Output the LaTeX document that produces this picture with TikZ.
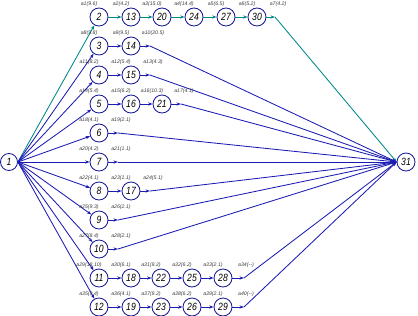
\documentclass[tikz,border=0pt]{standalone}
\usepackage{fontspec}
\setmainfont{Liberation Sans}
\newfontfamily\narrowsans[FakeStretch=0.82]{Liberation Sans}
\usetikzlibrary{arrows.meta}
\definecolor{nodeblue}{RGB}{20,20,150}
\definecolor{edgeblue}{RGB}{28,28,180}
\definecolor{critteal}{RGB}{0,135,135}
\definecolor{labgray}{RGB}{60,60,60}
\newcommand{\numfont}{\narrowsans\itshape\fontsize{10.5}{10.5}\selectfont}
\newcommand{\labfont}{\itshape\fontsize{5.2}{5.2}\selectfont}
\tikzset{
  nd/.style={circle, draw=nodeblue, fill=white, line width=0.8pt, minimum size=18pt, inner sep=0pt, font=\numfont},
  ed/.style={draw=edgeblue, line width=0.85pt, -{Stealth[length=4.5pt,width=3.2pt]}},
  crit/.style={ed, draw=critteal},
  lab/.style={font=\labfont, text=labgray, inner sep=0pt},
}
\begin{document}
\begin{tikzpicture}[x=1pt,y=-1pt]
\useasboundingbox (0,0) rectangle (418,316);
% nodes
\node[nd, minimum size=17pt] (n1) at (9,162) {1};
\node[nd] (n31) at (406,162) {31};
\foreach \n/\x/\y in {2/99/17,13/131/17,20/162/17,24/194/17,27/226/17,30/257/17,
  3/99/46,14/131/46, 4/99/75,15/131/75, 5/99/104,16/131/104,21/162/104,
  6/99/133, 7/99/162, 8/99/191,17/131/191, 9/99/220, 10/99/249,
  11/99/278,18/131/278,22/161/278,25/192/278,28/223/278,
  12/99/307,19/131/307,23/161/307,26/192/307,29/223/307}
  {\node[nd] (n\n) at (\x,\y) {\n};}
% bend points before node 31
\foreach \n/\x/\y in {30/275/17,14/150/46,15/150/75,21/181/104,6/118/133,7/118/162,
  17/150/191,9/118/220,10/118/249,28/244/278,29/244/307}
  {\coordinate (b\n) at (\x,\y);}
% edges from node 1
\draw[crit] (n1.east) -- (n2);
\foreach \n in {3,...,12} {\draw[ed] (n1.east) -- (n\n);}
% chains
\draw[crit] (n2) -- (n13);
\draw[crit] (n13) -- (n20);
\draw[crit] (n20) -- (n24);
\draw[crit] (n24) -- (n27);
\draw[crit] (n27) -- (n30);
\draw[crit] (n30) -- (b30);
\draw[crit] (b30) -- (n31.west);
\foreach \a/\b in {3/14,4/15,5/16,16/21,8/17,11/18,18/22,22/25,25/28,12/19,19/23,23/26,26/29}
  {\draw[ed] (n\a) -- (n\b);}
\foreach \n in {14,15,21,6,7,17,9,10,28,29}
  {\draw[ed] (n\n) -- (b\n); \draw[ed] (b\n) -- (n31.west);}
% labels on edges into nodes
\foreach \n/\t in {2/a1(9.6),13/a2(4.2),20/a3(15.0),24/a4(14.4),27/a5(6.5),30/a6(5.2),
  3/a8(9.8),14/a9(9.5),4/a11(8.2),15/a12(5.4),5/a14(5.4),16/a15(6.2),21/a16(10.3),
  6/a18(4.1),7/a20(4.2),8/a22(4.1),17/a23(1.1),9/a25(9.3),10/a27(8.4),
  11/a29(18.10),18/a30(6.1),22/a31(9.2),25/a32(6.2),28/a33(2.1),
  12/a35(9.4),19/a36(4.1),23/a37(9.2),26/a38(6.2),29/a39(2.1)}
  {\node[lab] (l\n) at ([xshift=-10pt,yshift=13pt]n\n.center) {\t};}
% labels on edges into node 31
\foreach \n/\t in {30/a7(4.2),14/a10(20.5),15/a13(4.3),21/a17(4.1),6/a19(2.1),7/a21(1.1),
  17/a24(5.1),9/a26(2.1),10/a28(2.1)}
  {\node[lab] (m\n) at ([xshift=3pt,yshift=13pt]b\n) {\t};}
\node[lab] (m28) at ([xshift=2pt,yshift=13pt]b28) {a34(-{}-)};
\node[lab] (m29) at ([xshift=2pt,yshift=13pt]b29) {a40(-{}-)};
\end{tikzpicture}
\end{document}
